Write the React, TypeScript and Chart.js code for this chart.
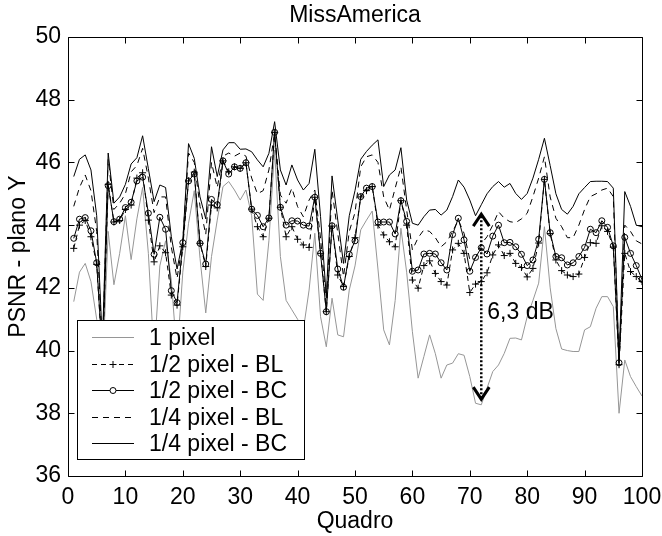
import React, { useEffect, useRef } from "react";
import { Chart, registerables } from "chart.js";

Chart.register(...registerables);

// ---------- data ----------
const frames: number[] = Array.from({ length: 100 }, (_, i) => i + 1);

const onePixel = [
  41.56, 42.5, 42.78, 42.2, 41.0, 39.3, 43.8, 42.1, 43.1, 44.3,
  42.9, 44.2, 45.2, 43.1, 39.8, 42.7, 43.5, 42.25, 39.8, 42.5,
  44.06, 45.1, 42.94, 41.2, 43.0, 44.16, 45.23, 45.39, 45.12, 44.8,
  45.12, 44.3, 41.8, 41.6, 43.5, 46.4, 43.0, 41.6, 41.3, 41.0,
  40.66, 41.93, 43.74, 41.08, 40.12, 41.67, 40.5, 40.44, 41.93, 42.7,
  43.85, 44.16, 44.45, 42.6, 40.66, 40.18, 41.6, 43.9, 42.5, 40.6,
  39.12, 39.81, 40.5, 39.9, 39.12, 39.54, 39.6, 39.9, 39.85, 39.17,
  38.32, 38.27, 38.8, 39.33, 39.54, 39.91, 40.39, 40.4, 40.34, 41.08,
  41.6, 42.15, 43.95, 42.0, 40.7, 40.05, 40.0, 39.97, 39.97, 40.66,
  40.76, 41.35, 41.72, 41.72, 41.4, 38.0, 39.7, 39.17, 38.85, 38.55,
];

const halfBL = [
  43.26, 44.0, 44.15, 43.63, 42.75, 39.7, 45.3, 44.1, 44.15, 44.5,
  44.64, 45.5, 45.67, 44.16, 42.83, 43.34, 43.12, 41.77, 41.45, 43.31,
  45.41, 45.69, 43.42, 42.68, 44.64, 44.55, 46.05, 45.7, 45.86, 45.81,
  45.99, 44.51, 43.95, 43.63, 44.22, 46.95, 44.57, 43.63, 43.95, 43.55,
  43.37, 43.29, 44.89, 43.1, 41.24, 43.97, 42.41, 42.04, 43.0, 43.6,
  44.9, 45.1, 45.23, 44.0, 43.69, 43.47, 43.31, 44.78, 44.0, 42.25,
  41.99, 42.71, 42.86, 42.46, 42.2, 42.09, 43.21, 43.42, 43.1, 41.85,
  42.12, 42.2, 42.48, 43.05, 43.37, 43.03, 43.1, 42.78, 42.65, 42.35,
  42.62, 43.43, 45.46, 43.73, 42.89, 42.55, 42.41, 42.36, 42.44, 42.97,
  43.44, 43.42, 43.98, 43.8, 43.3, 39.55, 43.1, 42.52, 42.36, 42.2,
];

const halfBC = [
  43.58, 44.19, 44.24, 43.82, 42.8, 39.8, 45.26, 44.11, 44.19, 44.56,
  44.73, 45.41, 45.53, 44.38, 43.07, 44.25, 43.87, 41.91, 41.53, 43.44,
  45.41, 45.63, 43.42, 42.76, 44.82, 44.65, 46.05, 45.63, 45.86, 45.81,
  45.99, 44.51, 44.31, 43.95, 44.23, 46.96, 44.57, 44.0, 44.14, 44.13,
  44.0, 43.97, 44.89, 43.1, 41.24, 43.98, 42.6, 42.02, 43.07, 43.5,
  44.91, 45.18, 45.23, 44.1, 44.1, 44.1, 43.72, 44.78, 44.12, 42.53,
  42.57, 43.08, 43.1, 43.08, 42.8, 42.57, 43.7, 44.22, 43.53, 42.53,
  42.97, 43.28, 43.08, 43.65, 44.0, 43.44, 43.45, 43.31, 43.07, 42.71,
  42.89, 43.55, 45.46, 43.76, 43.0, 42.96, 42.73, 42.8, 43.0, 43.29,
  43.87, 43.76, 44.14, 43.93, 43.34, 39.61, 43.61, 43.1, 42.71, 42.27,
];

const quarterBL = [
  44.6, 45.2, 45.6, 45.1, 43.8, 40.0, 46.1, 44.5, 44.7, 45.0,
  45.7, 45.9, 46.45, 45.5, 44.4, 44.9, 44.9, 43.3, 42.3, 43.5,
  46.3, 46.0, 44.6, 43.7, 46.0, 45.2, 46.2, 46.3, 46.2, 46.3,
  46.2, 45.5, 45.0, 45.1, 45.76, 46.93, 44.96, 44.7, 45.18, 44.59,
  44.27, 44.8, 45.12, 43.58, 41.5, 45.12, 43.74, 42.36, 43.8, 44.4,
  45.86, 46.18, 46.24, 46.0, 44.9, 44.48, 45.18, 45.86, 44.48, 43.21,
  43.6, 43.85, 43.8, 43.6, 43.31, 43.47, 43.79, 44.16, 43.74, 42.9,
  42.95, 43.4, 43.63, 44.0, 44.43, 44.22, 44.11, 44.08, 44.2, 44.38,
  44.91, 45.5, 46.18, 44.9, 44.22, 43.95, 43.6, 43.6, 44.0, 44.5,
  44.91, 45.0, 45.12, 45.18, 44.91, 39.6, 44.0, 43.8, 43.5, 43.4,
];

const quarterBC = [
  45.55, 46.1, 46.24, 45.76, 44.3, 40.2, 46.3, 44.7, 44.9, 45.3,
  45.95, 46.15, 46.85, 45.8, 44.75, 45.28, 45.2, 43.63, 42.6, 43.5,
  46.6, 46.13, 44.9, 44.2, 46.5, 45.55, 46.4, 46.63, 46.63, 46.42,
  46.43, 46.34, 46.08, 45.86, 46.29, 47.3, 45.76, 45.28, 45.92, 45.44,
  45.12, 45.33, 46.42, 44.27, 41.72, 45.57, 44.16, 42.78, 44.3, 45.1,
  46.1, 46.35, 46.55, 46.72, 45.23, 45.6, 45.76, 46.47, 44.8, 44.06,
  44.0, 44.27, 44.48, 44.5, 44.32, 44.48, 44.91, 45.44, 45.21, 44.8,
  44.3, 44.65, 45.0, 45.23, 45.39, 45.21, 45.33, 45.01, 44.82, 45.01,
  45.5, 46.1, 46.77, 45.9, 45.0, 44.5, 44.35, 44.6, 45.0, 45.2,
  45.39, 45.4, 45.4, 45.39, 45.18, 39.7, 45.07, 44.6, 44.0, 43.95,
];

const seriesLabels = ["1 pixel", "1/2 pixel - BL", "1/2 pixel - BC", "1/4 pixel - BL", "1/4 pixel - BC"];
const xTicks = [0, 10, 20, 30, 40, 50, 60, 70, 80, 90, 100];
const yTicks = [36, 38, 40, 42, 44, 46, 48, 50];
const chartTitle = "MissAmerica";
const xTitle = "Quadro";
const yTitle = "PSNR - plano Y";
const arrowFrame = 72;
const arrowLow = 38.45;
const arrowHigh = 44.35;
const arrowText = "6,3 dB";
const arrowTextValue = 41.0;

// ---------- styles ----------
const FONT = '"Liberation Sans", Arial, Helvetica, sans-serif';
const FS = 23;
const GRAY = "#969696";

function pts(vals: number[]) {
  return frames.map((f, i) => ({ x: f, y: vals[i] }));
}

const decorPlugin = {
  id: "decor",
  afterDraw(chart: any) {
    const { ctx, chartArea: a, scales } = chart;
    const x = scales.x;
    const y = scales.y;
    ctx.save();

    // ---- annotation arrow ----
    const ax = x.getPixelForValue(arrowFrame);
    const yTop = y.getPixelForValue(arrowHigh);
    const yBot = y.getPixelForValue(arrowLow);
    ctx.strokeStyle = "#000";
    ctx.lineWidth = 2.5;
    ctx.setLineDash([2, 2]);
    ctx.beginPath();
    ctx.moveTo(ax, yTop + 2);
    ctx.lineTo(ax, yBot - 2);
    ctx.stroke();
    ctx.setLineDash([]);
    ctx.lineWidth = 3;
    ctx.lineJoin = "miter";
    ctx.beginPath();
    ctx.moveTo(ax - 8, yTop + 12);
    ctx.lineTo(ax, yTop);
    ctx.lineTo(ax + 8, yTop + 12);
    ctx.stroke();
    ctx.beginPath();
    ctx.moveTo(ax - 8, yBot - 12);
    ctx.lineTo(ax, yBot);
    ctx.lineTo(ax + 8, yBot - 12);
    ctx.stroke();
    ctx.font = `${FS}px ${FONT}`;
    ctx.fillStyle = "#000";
    ctx.textAlign = "left";
    ctx.textBaseline = "alphabetic";
    ctx.fillText(arrowText, ax + 6, y.getPixelForValue(arrowTextValue));

    // ---- legend ----
    const lgL = a.left + 9;
    const lgT = a.top + 283;
    const lgW = 227;
    const lgH = 139;
    ctx.fillStyle = "#fff";
    ctx.fillRect(lgL, lgT, lgW, lgH);
    ctx.lineWidth = 1;
    ctx.strokeStyle = "#000";
    ctx.strokeRect(lgL + 0.5, lgT + 0.5, lgW, lgH);
    chart.data.datasets.forEach((ds: any, i: number) => {
      const ry = Math.round(lgT + 17 + i * 26.5) + 0.5;
      const x0 = lgL + 15;
      const x1 = lgL + 57;
      ctx.strokeStyle = ds.borderColor;
      ctx.lineWidth = 1;
      ctx.setLineDash(ds.borderDash || []);
      ctx.beginPath();
      ctx.moveTo(x0, ry);
      ctx.lineTo(x1, ry);
      ctx.stroke();
      ctx.setLineDash([]);
      const mx = (x0 + x1) / 2;
      if (ds.pointStyle === "circle" && ds.pointRadius > 0) {
        ctx.fillStyle = "#fff";
        ctx.beginPath();
        ctx.arc(mx, ry, ds.pointRadius, 0, Math.PI * 2);
        ctx.fill();
        ctx.stroke();
      } else if (ds.pointStyle === "cross" && ds.pointRadius > 0) {
        const r = ds.pointRadius;
        ctx.beginPath();
        ctx.moveTo(mx - r, ry);
        ctx.lineTo(mx + r, ry);
        ctx.moveTo(mx, ry - r);
        ctx.lineTo(mx, ry + r);
        ctx.stroke();
      }
      ctx.fillStyle = "#000";
      ctx.font = `${FS}px ${FONT}`;
      ctx.textAlign = "left";
      ctx.textBaseline = "middle";
      ctx.fillText(ds.label, lgL + 72, ry + 1);
    });

    // ---- axes box + inward ticks ----
    ctx.strokeStyle = "#000";
    ctx.lineWidth = 1;
    ctx.setLineDash([]);
    const L = Math.round(a.left) + 0.5;
    const R = Math.round(a.right) + 0.5;
    const T = Math.round(a.top) + 0.5;
    const B = Math.round(a.bottom) + 0.5;
    ctx.beginPath();
    ctx.rect(L, T, R - L, B - T);
    const tl = 6;
    xTicks.forEach((v) => {
      const px = Math.round(x.getPixelForValue(v)) + 0.5;
      ctx.moveTo(px, B);
      ctx.lineTo(px, B - tl);
      ctx.moveTo(px, T);
      ctx.lineTo(px, T + tl);
    });
    yTicks.forEach((v) => {
      const py = Math.round(y.getPixelForValue(v)) + 0.5;
      ctx.moveTo(L, py);
      ctx.lineTo(L + tl, py);
      ctx.moveTo(R, py);
      ctx.lineTo(R - tl, py);
    });
    ctx.stroke();

    // ---- titles ----
    ctx.fillStyle = "#000";
    ctx.font = `${FS}px ${FONT}`;
    ctx.textAlign = "center";
    ctx.textBaseline = "middle";
    ctx.fillText(chartTitle, (a.left + a.right) / 2, 16);
    ctx.fillText(xTitle, (a.left + a.right) / 2, a.bottom + 46);
    ctx.save();
    ctx.translate(19, (a.top + a.bottom) / 2);
    ctx.rotate(-Math.PI / 2);
    ctx.fillText(yTitle, 0, 0);
    ctx.restore();

    ctx.restore();
  },
};

export default function App() {
  const ref = useRef<HTMLCanvasElement | null>(null);

  useEffect(() => {
    if (!ref.current) return;
    const common = { borderWidth: 1, tension: 0, fill: false };
    const chart = new Chart(ref.current, {
      type: "line",
      data: {
        datasets: [
          {
            ...common,
            label: seriesLabels[0],
            data: pts(onePixel),
            borderColor: GRAY,
            pointRadius: 0,
            pointStyle: "circle",
            order: 5,
          },
          {
            ...common,
            label: seriesLabels[1],
            data: pts(halfBL),
            borderColor: "#000",
            borderDash: [5, 4],
            pointStyle: "cross",
            pointRadius: 3.5,
            pointBorderColor: "#000",
            pointBorderWidth: 1,
            order: 4,
          },
          {
            ...common,
            label: seriesLabels[2],
            data: pts(halfBC),
            borderColor: "#000",
            pointStyle: "circle",
            pointRadius: 3,
            pointBorderColor: "#000",
            pointBackgroundColor: "rgba(255,255,255,0)",
            pointBorderWidth: 1,
            order: 3,
          },
          {
            ...common,
            label: seriesLabels[3],
            data: pts(quarterBL),
            borderColor: "#000",
            borderDash: [6, 5],
            pointRadius: 0,
            pointStyle: "line",
            order: 2,
          },
          {
            ...common,
            label: seriesLabels[4],
            data: pts(quarterBC),
            borderColor: "#000",
            pointRadius: 0,
            pointStyle: "line",
            order: 1,
          },
        ],
      },
      options: {
        animation: false,
        responsive: false,
        devicePixelRatio: 1,
        events: [],
        layout: { padding: { top: 37, right: 20, left: 0, bottom: 0 } },
        plugins: { legend: { display: false }, tooltip: { enabled: false }, title: { display: false } },
        scales: {
          x: {
            type: "linear",
            min: 0,
            max: 100,
            ticks: {
              stepSize: 10,
              color: "#000",
              padding: 8,
              maxRotation: 0,
              font: { family: FONT, size: FS },
            },
            grid: { display: false, drawTicks: false },
            border: { display: false },
            afterFit: (s: any) => {
              s.height = 60;
              s.paddingLeft = 0;
              s.paddingRight = 0;
            },
          },
          y: {
            type: "linear",
            min: 36,
            max: 50,
            ticks: {
              stepSize: 2,
              color: "#000",
              padding: 7,
              font: { family: FONT, size: FS },
            },
            grid: { display: false, drawTicks: false },
            border: { display: false },
            afterFit: (s: any) => {
              s.width = 68;
              s.paddingTop = 0;
              s.paddingBottom = 0;
            },
          },
        },
      } as any,
      plugins: [decorPlugin],
    });
    return () => chart.destroy();
  }, []);

  return (
    <div style={{ position: "fixed", left: 0, top: 0, width: 662, height: 536, background: "#fff" }}>
      <canvas ref={ref} width={662} height={536} style={{ display: "block" }} />
    </div>
  );
}
